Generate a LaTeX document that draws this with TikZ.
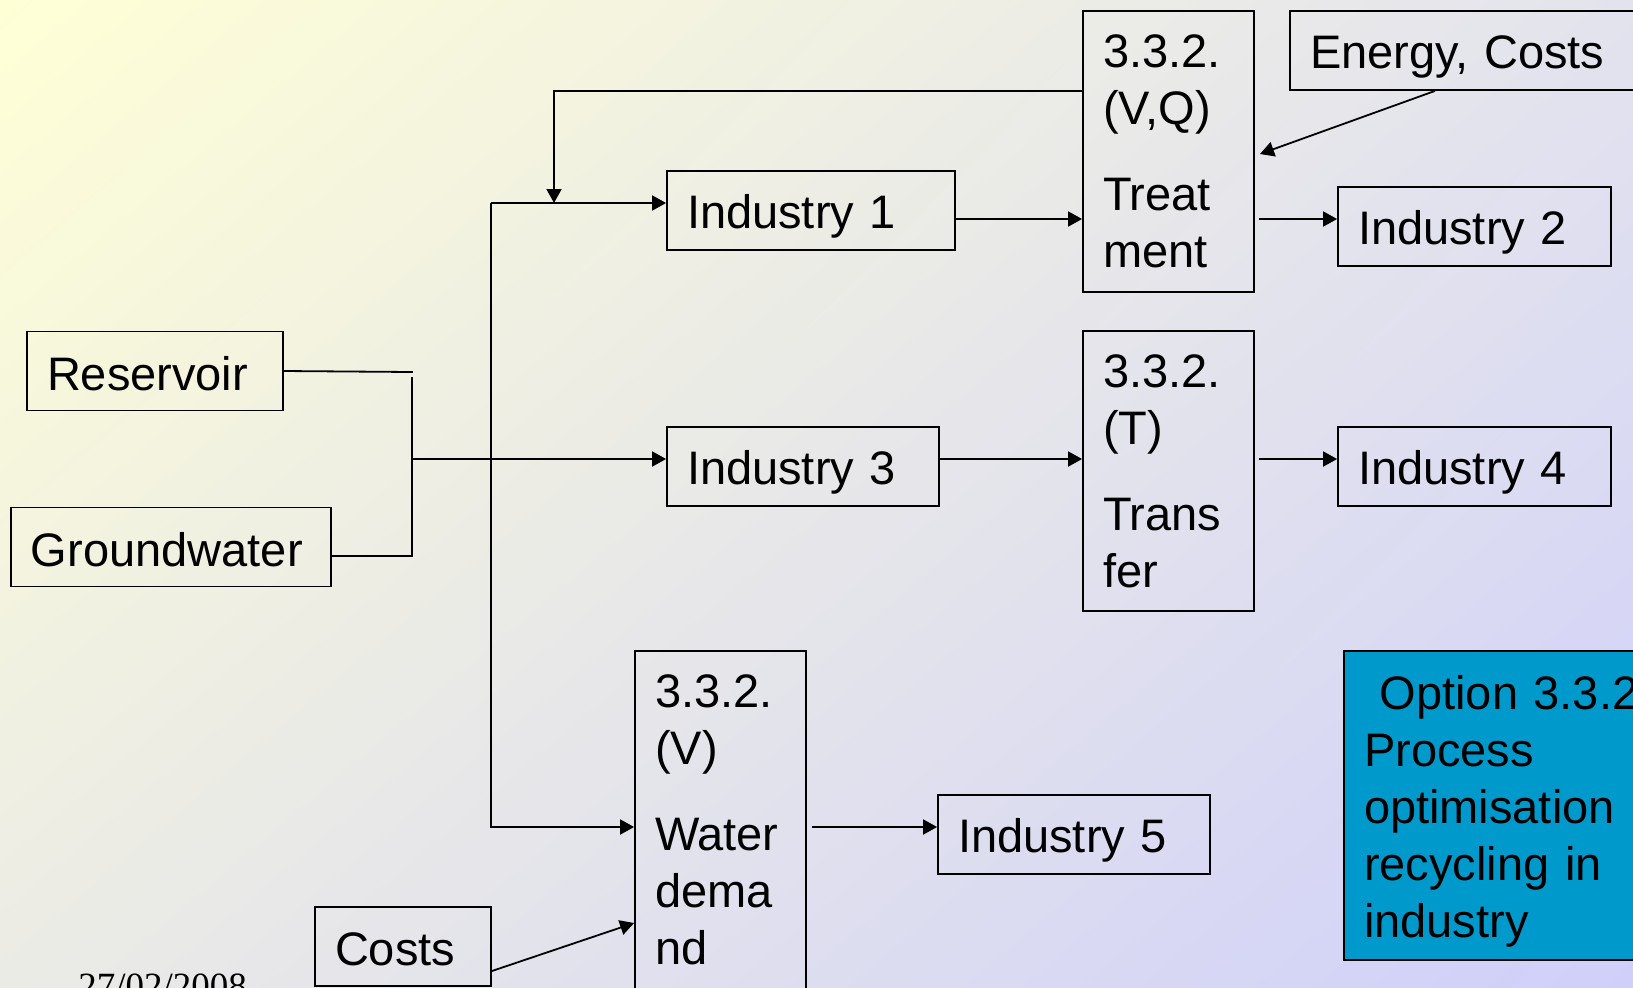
\documentclass[tikz,border=0pt]{standalone}
\usepackage{fontspec}
\setmainfont{Liberation Sans}
\newfontfamily\datefamily{Liberation Serif}
\usetikzlibrary{arrows.meta,shadings}
\definecolor{optionblue}{HTML}{0099CC}
\definecolor{bgul}{HTML}{FFFFD6}
\definecolor{bgur}{HTML}{E3E3EE}
\definecolor{bgll}{HTML}{EBEBE6}
\definecolor{bglr}{HTML}{CFCFFA}
\newcommand{\boxsize}{\fontsize{23.5pt}{28.5pt}\selectfont}
\tikzstyle{unit} = [draw=black, line width=0.9pt, align=left, inner xsep=10pt, inner ysep=0pt, font=\boxsize, minimum height=39.5pt]
\tikzstyle{single} = [unit, text height=23pt]
\tikzstyle{source} = [unit, text height=19.5pt]
\tikzstyle{wire} = [line width=0.9pt, line cap=rect]
\tikzstyle{flow} = [line width=0.9pt, -{Triangle[length=7pt,width=7.5pt]}]

\begin{document}
\begin{tikzpicture}[x=0.5pt, y=-0.5pt]
		\useasboundingbox (0,0) rectangle (1633,987);
		\clip (0,0) rectangle (1633,987);
		\shade[upper left=bgul, upper right=bgur, lower left=bgll, lower right=bglr] (0,0) rectangle (1633,987);
		% sources
		\node[source, text width=108pt] (res) at (155,371) {Reservoir};
		\node[source, text width=140pt] (gw) at (171,547) {Groundwater};
		% industries and options
		\node[single, text width=124pt] (ind1) at (811,210.5) {Industry 1};
		\node[unit, text width=65.5pt, minimum height=140.5pt] (treat) at (1168.5,151.5) {3.3.2.\\(V,Q)\\[14.5pt]Treat\\ment};
		\node[single, text width=155pt] (energy) at (1465,50.5) {Energy, Costs};
		\node[single, text width=116.5pt] (ind2) at (1474.5,226.5) {Industry 2};
		\node[single, text width=116pt] (ind3) at (803,466.5) {Industry 3};
		\node[unit, text width=65.5pt, minimum height=140pt] (transfer) at (1168.5,471) {3.3.2.\\(T)\\[14.5pt]Trans\\fer};
		\node[single, text width=116.5pt] (ind4) at (1474.5,466.5) {Industry 4};
		\node[unit, text width=65.5pt, minimum height=169pt] (water) at (720.5,820) {3.3.2.\\(V)\\[14.5pt]Water\\dema\\nd};
		\node[single, text width=116pt] (ind5) at (1074,834.5) {Industry 5};
		\node[source, text width=68pt] (costs) at (403,946.5) {Costs};
		\node[unit, fill=optionblue, text width=140pt, minimum height=154.5pt, text depth=113.5pt] (option) at (1504,805.5) {\ Option 3.3.2\\Process\\optimisation\\recycling in\\industry};
		\node[anchor=base west, inner sep=0pt, font=\datefamily\fontsize{18.5pt}{22pt}\selectfont] (date) at (78,998) {27/02/2008};
		% junctions
		\coordinate (rjoin) at (412,372);
		\coordinate (rgap) at (412,378);
		\coordinate (gjoin) at (412,556);
		\coordinate (merge) at (412,459);
		\coordinate (bustop) at (491,203);
		\coordinate (busbot) at (491,827);
		\coordinate (loop) at (554,91);
		\coordinate (feed) at (1260,154);
		\coordinate (row1) at (0,219);
		\coordinate (row3) at (0,459);
		\coordinate (row5) at (0,827);
		% connectors
		\draw[wire] (res.east) -- (rjoin);
		\draw[wire] (rgap) -- (gjoin) -- (gw.east |- gjoin);
		\draw[flow] (merge) -- (ind3.west |- merge);
		\draw[flow] (bustop) -- (ind1.west |- bustop);
		\draw[flow] (bustop) -- (busbot) -- (water.west |- busbot);
		\draw[flow] (treat.west |- loop) -- (loop) -- (loop |- bustop);
		\draw[flow] (ind1.east |- row1) -- (treat.west |- row1);
		\draw[flow, shorten <=2pt] (treat.east |- row1) -- (ind2.west |- row1);
		\draw[flow] ([xshift=-15pt]energy.south) -- (feed);
		\draw[flow] (ind3.east |- row3) -- (transfer.west |- row3);
		\draw[flow, shorten <=2pt] (transfer.east |- row3) -- (ind4.west |- row3);
		\draw[flow, shorten <=2.5pt] (water.east |- row5) -- (ind5.west |- row5);
		\draw[flow] ([yshift=-12.25pt]costs.east) -- ([yshift=-51.5pt]water.west);
	\end{tikzpicture}
\end{document}
